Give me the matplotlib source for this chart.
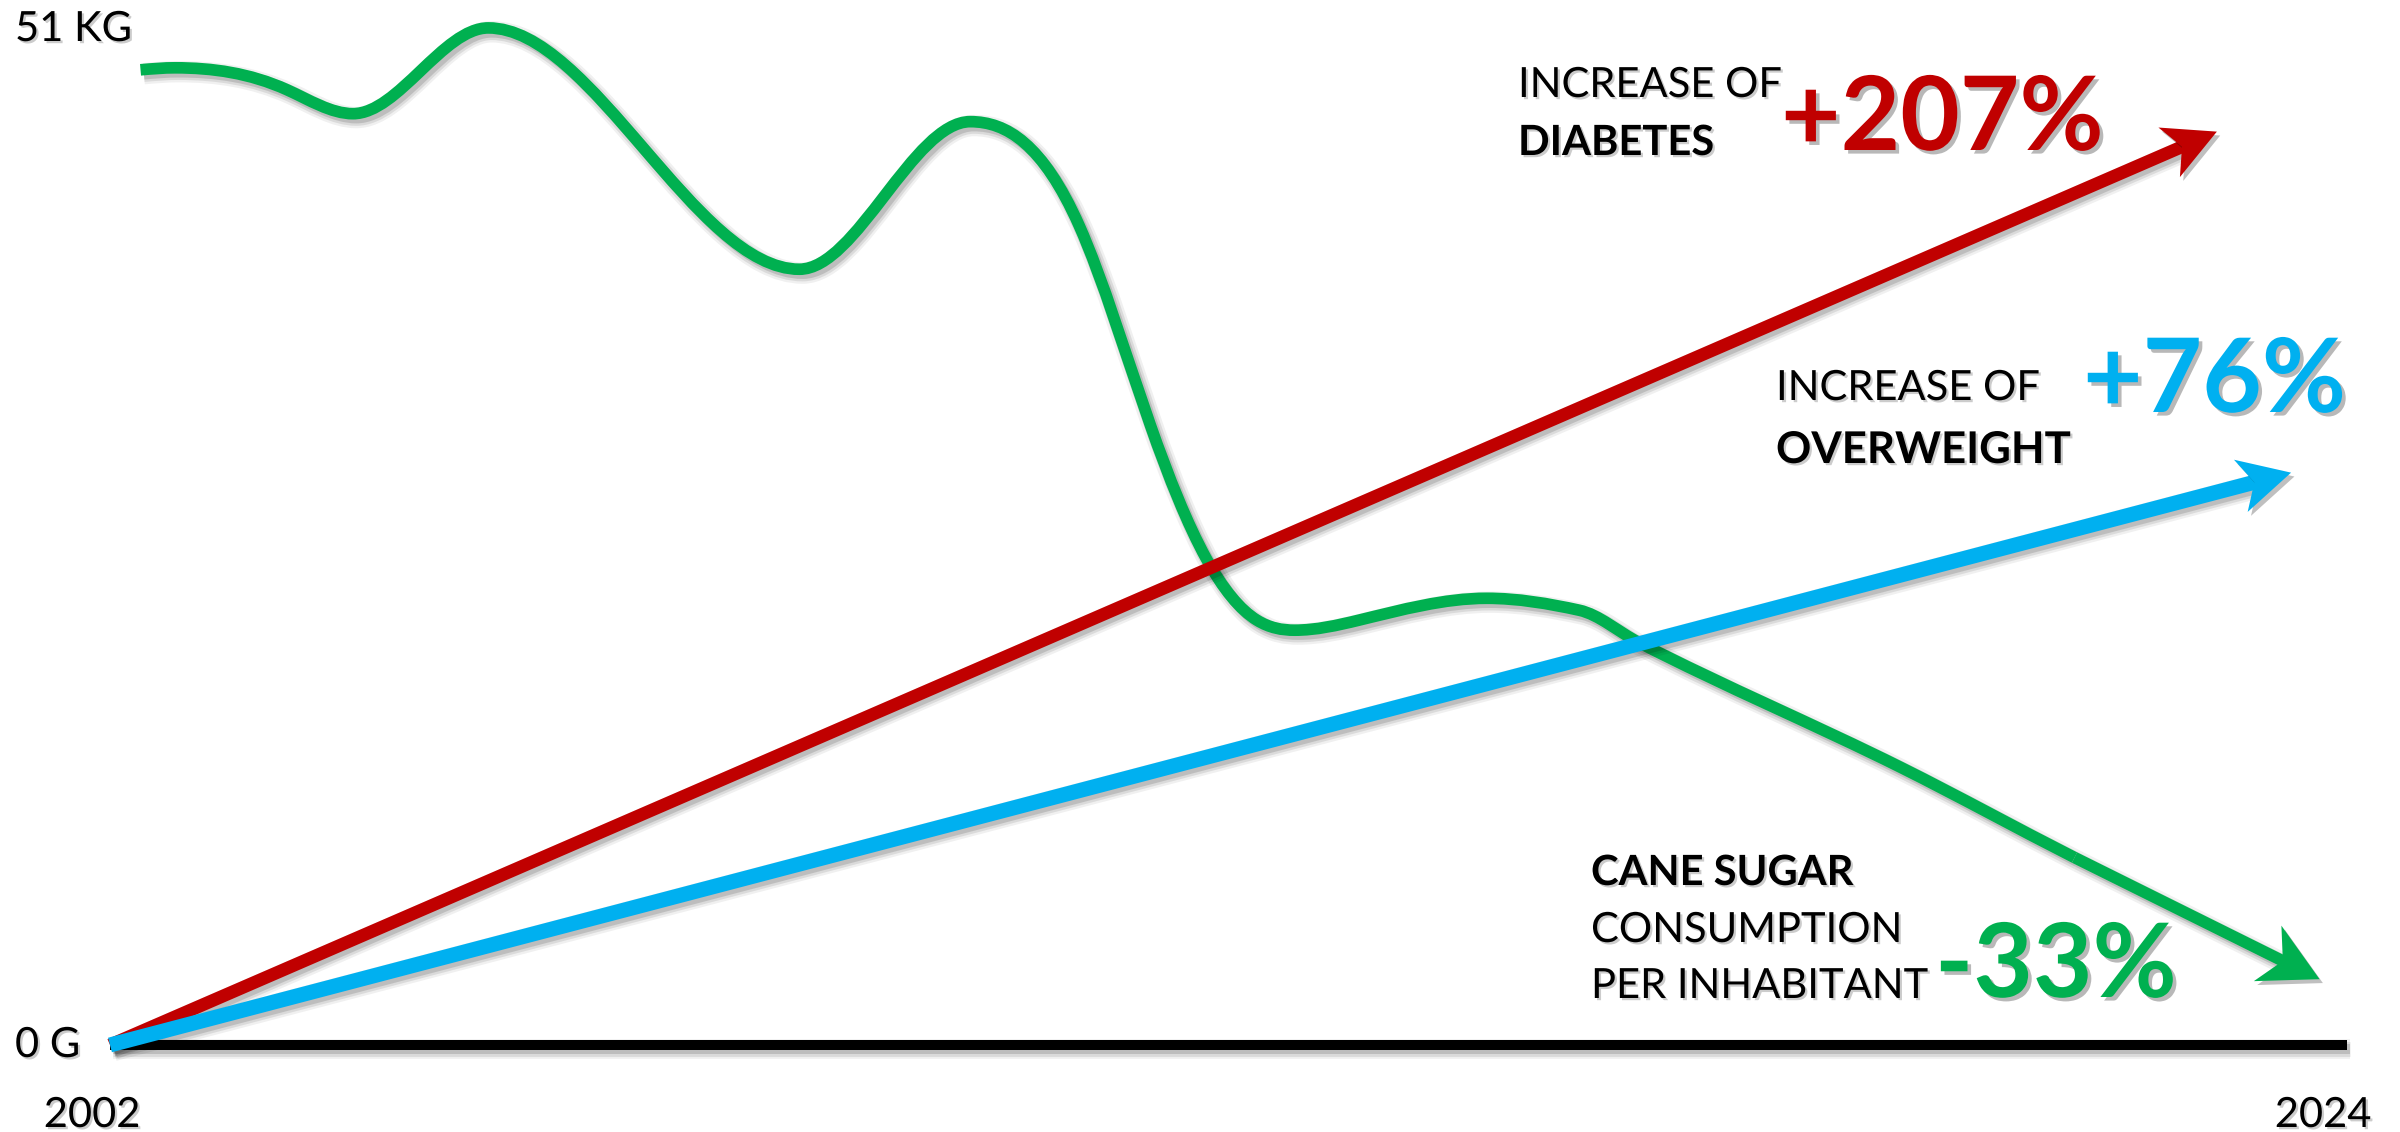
import numpy as np
import matplotlib
matplotlib.use("Agg")
import matplotlib.pyplot as plt
import matplotlib.patheffects as pe
from matplotlib.path import Path
from matplotlib.patches import PathPatch, Polygon
from matplotlib.transforms import IdentityTransform

# ---------------------------------------------------------------- data
# Cane sugar consumption per inhabitant (kg)
sugar_years = [2002.30, 2002.64, 2003.74, 2004.39, 2005.72, 2008.78,
               2010.46, 2011.53, 2012.23, 2012.78, 2013.28, 2013.65,
               2014.28, 2015.54, 2016.45, 2017.03, 2019.62, 2021.32, 2023.73]
sugar_kg = [48.9, 49.0, 47.9, 46.7, 51.0, 38.9,
            46.3, 41.1, 31.1, 24.4, 21.3, 20.8,
            21.3, 22.4, 21.8, 20.2, 13.9, 9.4, 3.3]

# Trend arrows (start / end) on the same scale
diabetes_years = [2002.0, 2022.72]
diabetes_level = [0.0, 45.8]
overweight_years = [2002.0, 2023.45]
overweight_level = [0.0, 28.7]

baseline_years = [2002, 2024]
y_labels = ["0 G", "51 KG"]
x_labels = ["2002", "2024"]

# ---------------------------------------------------------------- style
RED = "#C00000"
BLUE = "#00B0F0"
GREEN = "#00B050"
FONT = "Lato"

W, H, DPI = 2400, 1132, 100
fig = plt.figure(figsize=(W / DPI, H / DPI), dpi=DPI)
ax = fig.add_axes([0, 0, 1, 1])
ax.set_xlim(2000.918, 2024.521)
ax.set_ylim(-4.363, 52.40)
ax.axis("off")


def line_shadow(lw):
    off = (2.4, -2.8)
    return [pe.SimpleLineShadow(offset=off, shadow_color="black", alpha=0.06, linewidth=lw + 7),
            pe.SimpleLineShadow(offset=off, shadow_color="black", alpha=0.09, linewidth=lw + 3.5),
            pe.SimpleLineShadow(offset=off, shadow_color="black", alpha=0.13, linewidth=lw),
            pe.Normal()]


PATCH_SHADOW = [pe.SimplePatchShadow(offset=(2.4, -2.8), shadow_rgbFace="black", alpha=0.25),
                pe.Normal()]


def arrow_head(tail, tip, color, length, half_width, notch, z):
    """Stealth-style head drawn in pixels; returns the shaft end in data units."""
    p0 = ax.transData.transform(tail)
    p1 = ax.transData.transform(tip)
    d = (p1 - p0) / np.hypot(*(p1 - p0))
    n = np.array([-d[1], d[0]])
    base = p1 - d * length
    inner = p1 - d * (length - notch)
    head = Polygon([p1, base + n * half_width, inner, base - n * half_width],
                   closed=True, transform=IdentityTransform(), facecolor=color,
                   edgecolor="none", zorder=z, path_effects=PATCH_SHADOW)
    ax.add_patch(head)
    return ax.transData.inverted().transform(inner + d * 2)


def straight_arrow(xs, ys, color, lw, z, length=52, half_width=27, notch=14):
    tail = np.array([xs[0], ys[0]])
    tip = np.array([xs[1], ys[1]])
    end = arrow_head(tail, tip, color, length, half_width, notch, z + 0.1)
    ax.plot([tail[0], end[0]], [tail[1], end[1]], color=color, lw=lw,
            solid_capstyle="butt", zorder=z, path_effects=line_shadow(lw))


def smooth_path(x, y, free_from):
    """Cubic through the points: flat tangents at the peaks and troughs,
    C2 spline between them, shape-preserving tangents from `free_from` on."""
    x = np.asarray(x, float)
    y = np.asarray(y, float)
    n = len(x)
    h = np.diff(x)
    s = np.diff(y) / h
    # shape-preserving tangents
    pchip = np.zeros(n)
    pchip[0], pchip[-1] = s[0], s[-1]
    for i in range(1, n - 1):
        if s[i - 1] * s[i] > 0:
            w1 = 2 * h[i] + h[i - 1]
            w2 = h[i] + 2 * h[i - 1]
            pchip[i] = (w1 + w2) / (w1 / s[i - 1] + w2 / s[i])
    A = np.zeros((n, n))
    b = np.zeros(n)
    A[0, 0], A[0, 1], b[0] = 2.0, 1.0, 3 * s[0]
    for i in range(1, n):
        extremum = i < n - 1 and s[i - 1] * s[i] <= 0
        if i >= free_from or i == n - 1:
            A[i, i], b[i] = 1.0, pchip[i]
        elif extremum:
            A[i, i], b[i] = 1.0, 0.0
        else:
            A[i, i - 1] = h[i]
            A[i, i] = 2 * (h[i - 1] + h[i])
            A[i, i + 1] = h[i - 1]
            b[i] = 3 * (h[i] * s[i - 1] + h[i - 1] * s[i])
    m = np.linalg.solve(A, b)
    verts = [(x[0], y[0])]
    codes = [Path.MOVETO]
    for i in range(n - 1):
        verts += [(x[i] + h[i] / 3, y[i] + m[i] * h[i] / 3),
                  (x[i + 1] - h[i] / 3, y[i + 1] - m[i + 1] * h[i] / 3),
                  (x[i + 1], y[i + 1])]
        codes += [Path.CURVE4] * 3
    return Path(verts, codes)


# baseline
ax.plot(baseline_years, [0, 0], color="black", lw=7.2, solid_capstyle="butt",
        zorder=1, path_effects=line_shadow(7.2))

# sugar curve: smooth through the traced points, straight arrow on the last leg
green_lw = 8.4
curve = smooth_path(sugar_years, sugar_kg, free_from=14)
n_curve = 3 * (len(sugar_years) - 2) + 1
curve = Path(curve.vertices[:n_curve], curve.codes[:n_curve])
ax.add_patch(PathPatch(curve, facecolor="none", edgecolor=GREEN,
                       lw=green_lw, capstyle="butt", joinstyle="round", zorder=2,
                       path_effects=line_shadow(green_lw)))
straight_arrow(sugar_years[-2:], sugar_kg[-2:], GREEN, green_lw, 2,
               length=58, half_width=31, notch=17)

straight_arrow(diabetes_years, diabetes_level, RED, 9.2, 3)
straight_arrow(overweight_years, overweight_level, BLUE, 10.8, 4)

# ---------------------------------------------------------------- text
SMALL = 30
BIG = 74
TXT_SHADOW = [pe.withSimplePatchShadow(offset=(1.6, -1.6), shadow_rgbFace="black", alpha=0.2)]
BIG_SHADOW = [pe.withSimplePatchShadow(offset=(2.6, -2.6), shadow_rgbFace="black", alpha=0.28)]


def put(px, py, s, size=SMALL, weight="normal", color="black", ha="left", effects=TXT_SHADOW):
    fig.text(px / W, 1 - py / H, s, fontsize=size, fontweight=weight, color=color,
             family=FONT, ha=ha, va="baseline", path_effects=effects)


put(15, 41, y_labels[1])
put(15, 1057, y_labels[0])
put(92, 1127, x_labels[0], ha="center")
put(2323, 1127, x_labels[1], ha="center")

put(1518, 97, "INCREASE OF")
put(1518, 155, "DIABETES", weight="bold")
put(1781, 150, "+207%", size=BIG, weight="bold", color=RED, effects=BIG_SHADOW)

put(1776, 400, "INCREASE OF")
put(1776, 463, "OVERWEIGHT", size=SMALL + 1.5, weight="bold")
put(2083, 412, "+76%", size=BIG, weight="bold", color=BLUE, effects=BIG_SHADOW)

put(1591, 885, "CANE SUGAR", weight="bold")
put(1591, 942, "CONSUMPTION")
put(1591, 998, "PER INHABITANT")
put(1935, 997, "-33%", size=BIG, weight="bold", color=GREEN, effects=BIG_SHADOW)

fig.savefig("out.png", dpi=DPI, facecolor="white")
